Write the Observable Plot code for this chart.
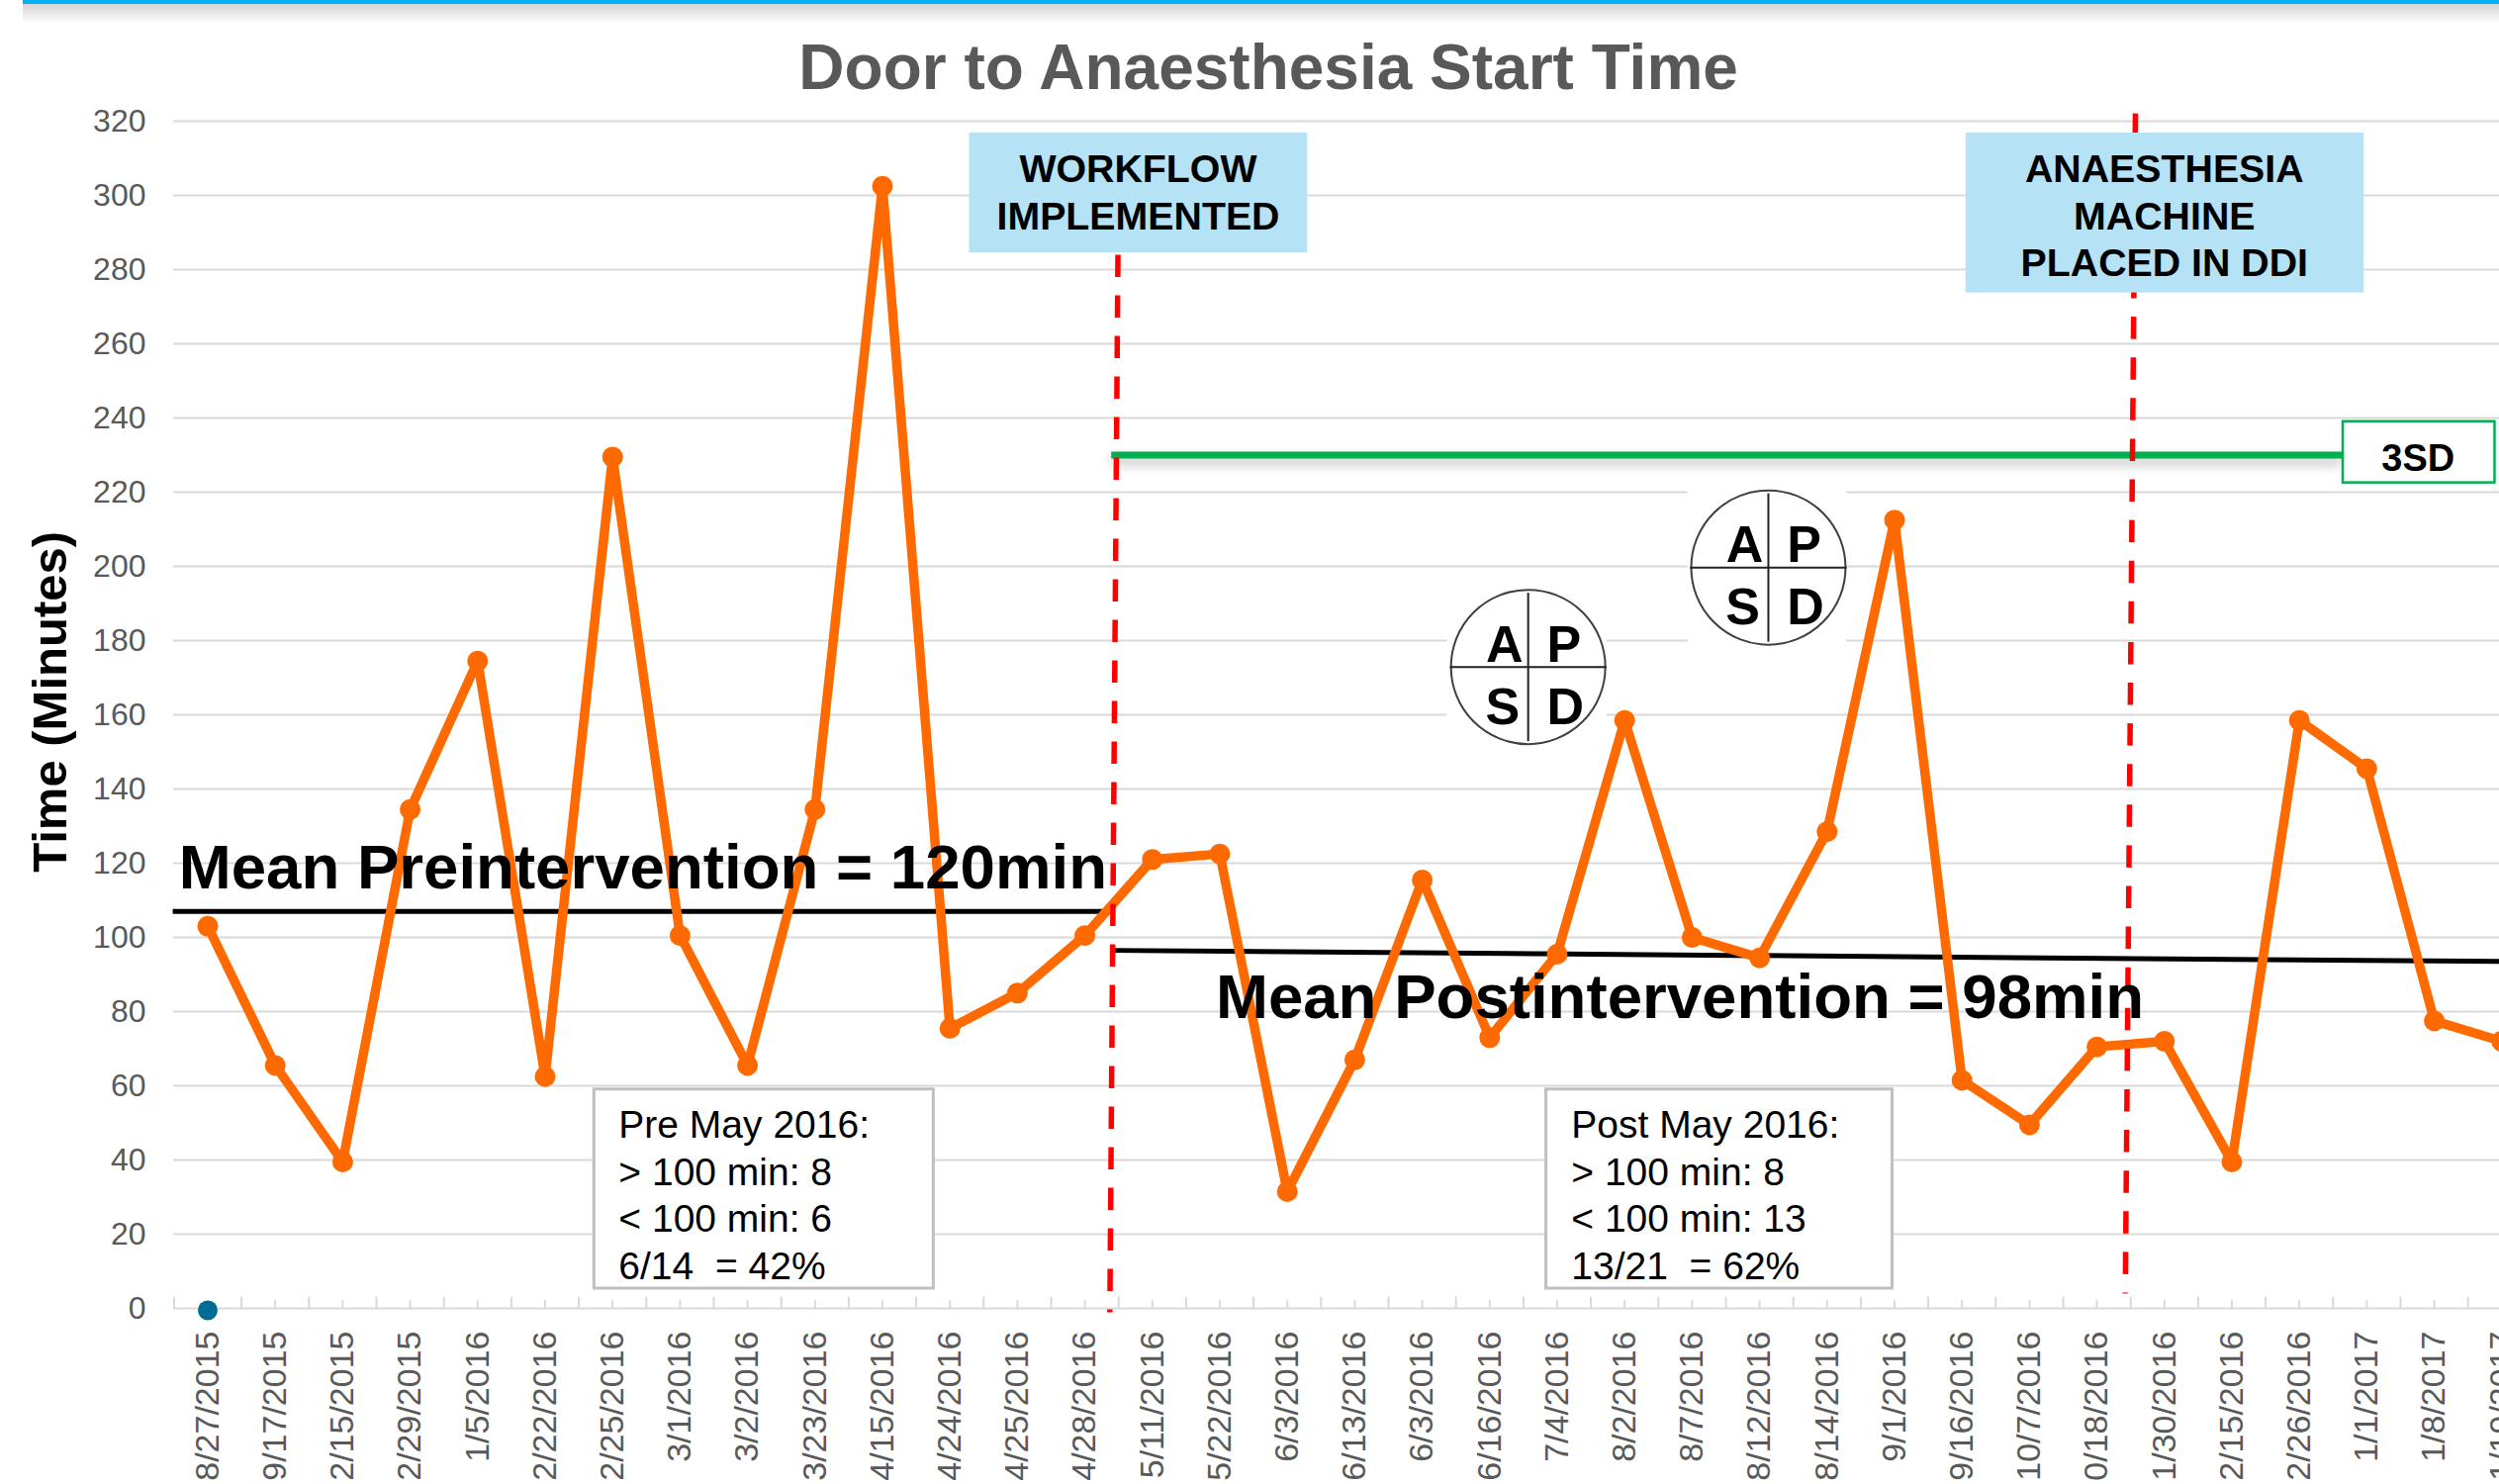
<!DOCTYPE html>
<html><head><meta charset="utf-8">
<style>
html,body{margin:0;padding:0;background:#fff;width:2526px;height:1500px;overflow:hidden}
#bar{position:absolute;left:23px;right:0;top:0;height:4px;background:#00B0F0;z-index:3}
#shade{position:absolute;left:23px;right:0;top:4px;height:20px;background:linear-gradient(#d4d4d4,#fff);z-index:2}
svg{display:block}
</style>
<script src="https://cdn.jsdelivr.net/npm/d3@7"></script>
<script src="https://cdn.jsdelivr.net/npm/@observablehq/plot@0.6"></script>
</head><body>
<div id="bar"></div><div id="shade"></div>
<script>
// ---- data (labels as they are visible in it) ----
const dates = ["8/27/2015","9/17/2015","2/15/2015","2/29/2015","1/5/2016","2/22/2016","2/25/2016","3/1/2016","3/2/2016","3/23/2016","4/15/2016","4/24/2016","4/25/2016","4/28/2016","5/11/2016","5/22/2016","6/3/2016","6/13/2016","6/3/2016","6/16/2016","7/4/2016","8/2/2016","8/7/2016","8/12/2016","8/14/2016","9/1/2016","9/16/2016","10/7/2016","0/18/2016","1/30/2016","2/15/2016","2/26/2016","1/1/2017","1/8/2017","1/19/2017"];
const minutes = [103,65.5,39.5,134.5,174.5,62.5,229.5,100.5,65.5,134.5,302.5,75.5,85,100.5,121,122.5,31.5,67,115.5,73,95.5,158.5,100,94.5,128.5,212.5,61.5,49.5,70.5,72,39.5,158.5,145.5,77.5,72];
const yTicks = [0,20,40,60,80,100,120,140,160,180,200,220,240,260,280,300,320];
const preLines = ["Pre May 2016:","> 100 min: 8","< 100 min: 6","6/14  = 42%"];
const postLines = ["Post May 2016:","> 100 min: 8","< 100 min: 13","13/21  = 62%"];
const workflowLines = ["WORKFLOW","IMPLEMENTED"];
const machineLines = ["ANAESTHESIA","MACHINE","PLACED IN DDI"];
const lineRows = [45.9,33.3,20.8,8];
const pdsa = ["A","P","S","D"];
const pdsaCentres = [{x:19.57,y:172.9},{x:23.13,y:199.7}];

const idx = dates.map((_,i)=>i);
const series = idx.map(i=>({i,v:minutes[i]}));
const FONT = "Liberation Sans";
const GREY = "#595959", GRID = "#D9D9D9", ORANGE = "#FF6A00";
const rows = (lines, x, ys) => lines.map((t,k)=>({t,x,y:ys[k]}));
const words = (rows, o) => Plot.text(rows,{x:"x",y:"y",text:"t",lineAnchor:"bottom",fontFamily:FONT,fill:"#000",...o});
const box = (x1,x2,y1,y2,o) => Plot.rect([0],{x1:()=>x1,x2:()=>x2,y1:()=>y1,y2:()=>y2,...o});

const marks = [
  Plot.ruleY(yTicks,{stroke:GRID,strokeWidth:2}),
  // x axis ticks
  Plot.ruleX(d3.range(-0.5,34,1),{y1:0,y2:3,stroke:GRID,strokeWidth:2}),
  Plot.ruleX(idx,{y1:0,y2:2.1,stroke:GRID,strokeWidth:2}),
  Plot.axisY({ticks:yTicks,tickSize:0,tickPadding:28,fontSize:32,fill:GREY,label:null,fontFamily:FONT}),
  Plot.axisX({ticks:idx,tickFormat:i=>dates[i],tickRotate:-90,tickSize:0,tickPadding:23,fontSize:34,fill:GREY,label:null,fontFamily:FONT}),
  // white backings of the PDSA pictures
  box(18.37,20.74,193.6,152.5,{fill:"#fff"}),
  box(21.94,24.29,220.5,179.2,{fill:"#fff"}),
  // mean lines
  Plot.link([0],{x1:()=>-0.52,x2:()=>13.27,y1:()=>107,y2:()=>107,stroke:"#000",strokeWidth:5}),
  Plot.link([0],{x1:()=>13.39,x2:()=>33.97,y1:()=>96.5,y2:()=>93.5,stroke:"#000",strokeWidth:5}),
  // series
  Plot.line(series,{x:"i",y:"v",stroke:ORANGE,strokeWidth:9.5}),
  Plot.dot(series,{x:"i",y:"v",r:10.5,fill:ORANGE}),
  Plot.dot([0],{x:()=>0,y:()=>-0.5,r:10,fill:"#006C93"}),
  // green 3SD line
  Plot.link([0],{x1:()=>13.39,x2:()=>31.65,y1:()=>230,y2:()=>230,stroke:"#00B050",strokeWidth:7,imageFilter:"drop-shadow(0 6px 6px #bbb)"}),
  // red intervention lines
  Plot.link([0],{x1:()=>13.49,x2:()=>13.37,y1:()=>284,y2:()=>-1.07,stroke:"#FF0000",strokeWidth:5.5,strokeDasharray:"22.5,18.5"}),
  Plot.link([0],{x1:()=>28.57,x2:()=>28.42,y1:()=>322.1,y2:()=>4,stroke:"#FF0000",strokeWidth:5.5,strokeDasharray:"22.5,18.6"}),
  // blue labels
  box(11.29,16.3,316.8,284.5,{fill:"#B5E2F4"}),
  box(26.06,31.96,316.8,273.7,{fill:"#B5E2F4"}),
  words(rows(workflowLines,13.79,[303.5,290.9]),{fontSize:39.3,fontWeight:"bold"}),
  words(rows(machineLines,29,[303.5,290.9,278.4]),{fontSize:39.3,fontWeight:"bold"}),
  // 3SD tag
  box(31.65,33.9,239,222.5,{fill:"#fff",stroke:"#00B050",strokeWidth:2.5}),
  words([{t:"3SD",x:32.76,y:225.7}],{fontSize:38,fontWeight:"bold"}),
  // count boxes
  box(5.73,10.76,59,5.33,{fill:"#fff",stroke:"#BFBFBF",strokeWidth:3}),
  box(19.84,24.97,59,5.33,{fill:"#fff",stroke:"#BFBFBF",strokeWidth:3}),
  words(rows(preLines,6.09,lineRows),{fontSize:39,textAnchor:"start"}),
  words(rows(postLines,20.21,lineRows),{fontSize:39,textAnchor:"start"}),
  // PDSA pictures
  Plot.dot(pdsaCentres,{x:"x",y:"y",r:78,stroke:"#404040",strokeWidth:2,fill:"none"}),
  Plot.link(pdsaCentres,{x1:d=>d.x-1.16,x2:d=>d.x+1.16,y1:"y",y2:"y",stroke:"#222",strokeWidth:2}),
  Plot.link(pdsaCentres,{x1:"x",x2:"x",y1:d=>d.y-20,y2:d=>d.y+20,stroke:"#222",strokeWidth:2}),
  ...pdsaCentres.map(c=>words(pdsa.map((t,k)=>({t,x:c.x+[-0.35,0.53,-0.38,0.55][k],y:c.y+[1.5,1.5,-15.3,-15.3][k]})),{fontSize:52,fontWeight:"bold"})),
  // mean captions
  words([{t:"Mean Preintervention = 120min",x:-0.43,y:113.1}],{fontSize:63.6,fontWeight:"bold",textAnchor:"start"}),
  words([{t:"Mean Postintervention = 98min",x:14.94,y:78.2}],{fontSize:63.6,fontWeight:"bold",textAnchor:"start"}),
  // titles
  words([{t:"Door to Anaesthesia Start Time",x:15.72,y:328.6}],{fontSize:64,fontWeight:"bold",fill:GREY}),
  Plot.text([{t:"Time (Minutes)",x:-2.32,y:163.5}],{x:"x",y:"y",text:"t",rotate:-90,fontSize:49,fontWeight:"bold",fontFamily:FONT,fill:"#000"})
];

const chart = Plot.plot({
  width:2526,height:1500,
  marginLeft:175,marginRight:0,marginTop:122,marginBottom:178,
  style:{fontFamily:FONT,background:"#fff"},
  x:{type:"linear",domain:[-0.5,34.5],range:[175.4,2562.4]},
  y:{type:"linear",domain:[0,320],range:[1322,122]},
  marks
});
document.body.appendChild(chart);
</script>
</body></html>
